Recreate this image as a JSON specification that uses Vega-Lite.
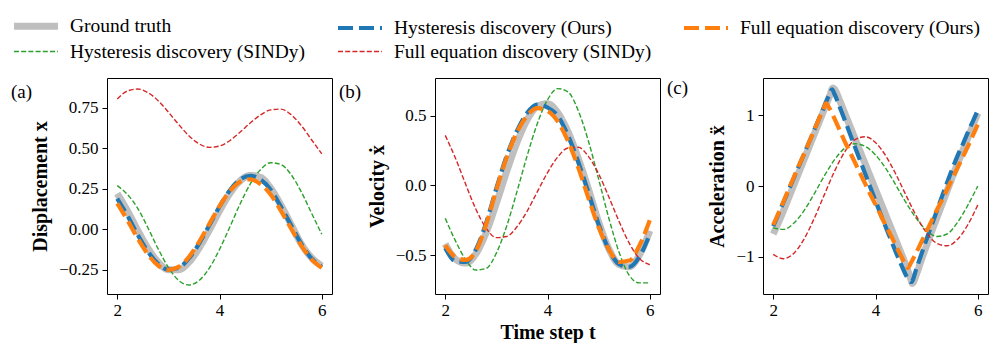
{
  "$schema": "https://vega.github.io/schema/vega-lite/v6.json",
  "background": "white",
  "padding": {"left": 10, "top": 12, "right": 0, "bottom": 0},
  "datasets": {
    "a": [
      {"t": 2.0, "gt": 0.221, "ho": 0.19, "fo": 0.16, "hs": 0.27, "fs": 0.805},
      {"t": 2.2, "gt": 0.114, "ho": 0.084, "fo": 0.056, "hs": 0.215, "fs": 0.854},
      {"t": 2.4, "gt": -0.005, "ho": -0.033, "fo": -0.056, "hs": 0.13, "fs": 0.866},
      {"t": 2.6, "gt": -0.116, "ho": -0.137, "fo": -0.154, "hs": 0.01, "fs": 0.844},
      {"t": 2.8, "gt": -0.202, "ho": -0.213, "fo": -0.223, "hs": -0.12, "fs": 0.794},
      {"t": 3.0, "gt": -0.249, "ho": -0.249, "fo": -0.25, "hs": -0.235, "fs": 0.724},
      {"t": 3.2, "gt": -0.249, "ho": -0.237, "fo": -0.232, "hs": -0.315, "fs": 0.648},
      {"t": 3.4, "gt": -0.203, "ho": -0.18, "fo": -0.171, "hs": -0.343, "fs": 0.578},
      {"t": 3.6, "gt": -0.116, "ho": -0.088, "fo": -0.078, "hs": -0.316, "fs": 0.528},
      {"t": 3.8, "gt": -0.005, "ho": 0.025, "fo": 0.033, "hs": -0.24, "fs": 0.506},
      {"t": 4.0, "gt": 0.114, "ho": 0.141, "fo": 0.143, "hs": -0.124, "fs": 0.514},
      {"t": 4.2, "gt": 0.221, "ho": 0.24, "fo": 0.235, "hs": 0.013, "fs": 0.547},
      {"t": 4.4, "gt": 0.298, "ho": 0.307, "fo": 0.293, "hs": 0.155, "fs": 0.599},
      {"t": 4.6, "gt": 0.333, "ho": 0.33, "fo": 0.309, "hs": 0.279, "fs": 0.656},
      {"t": 4.8, "gt": 0.321, "ho": 0.307, "fo": 0.28, "hs": 0.368, "fs": 0.706},
      {"t": 5.0, "gt": 0.255, "ho": 0.245, "fo": 0.215, "hs": 0.411, "fs": 0.737},
      {"t": 5.2, "gt": 0.15, "ho": 0.14, "fo": 0.115, "hs": 0.4, "fs": 0.742},
      {"t": 5.4, "gt": 0.03, "ho": 0.025, "fo": 0.005, "hs": 0.338, "fs": 0.708},
      {"t": 5.6, "gt": -0.09, "ho": -0.09, "fo": -0.1, "hs": 0.231, "fs": 0.64},
      {"t": 5.8, "gt": -0.175, "ho": -0.18, "fo": -0.185, "hs": 0.1, "fs": 0.553},
      {"t": 6.0, "gt": -0.225, "ho": -0.232, "fo": -0.238, "hs": -0.03, "fs": 0.466}
    ],
    "b": [
      {"t": 2.0, "gt": -0.42, "ho": -0.45, "fo": -0.43, "hs": -0.236, "fs": 0.36},
      {"t": 2.2, "gt": -0.529, "ho": -0.545, "fo": -0.515, "hs": -0.398, "fs": 0.196},
      {"t": 2.4, "gt": -0.558, "ho": -0.55, "fo": -0.535, "hs": -0.534, "fs": 0.008},
      {"t": 2.6, "gt": -0.491, "ho": -0.46, "fo": -0.47, "hs": -0.608, "fs": -0.171},
      {"t": 2.8, "gt": -0.338, "ho": -0.27, "fo": -0.28, "hs": -0.596, "fs": -0.307},
      {"t": 3.0, "gt": -0.128, "ho": -0.02, "fo": -0.03, "hs": -0.486, "fs": -0.375},
      {"t": 3.2, "gt": 0.099, "ho": 0.21, "fo": 0.2, "hs": -0.294, "fs": -0.367},
      {"t": 3.4, "gt": 0.306, "ho": 0.39, "fo": 0.38, "hs": -0.048, "fs": -0.299},
      {"t": 3.6, "gt": 0.47, "ho": 0.52, "fo": 0.5, "hs": 0.211, "fs": -0.186},
      {"t": 3.8, "gt": 0.568, "ho": 0.58, "fo": 0.555, "hs": 0.444, "fs": -0.046},
      {"t": 4.0, "gt": 0.587, "ho": 0.56, "fo": 0.535, "hs": 0.615, "fs": 0.092},
      {"t": 4.2, "gt": 0.523, "ho": 0.5, "fo": 0.46, "hs": 0.696, "fs": 0.204},
      {"t": 4.4, "gt": 0.386, "ho": 0.36, "fo": 0.32, "hs": 0.672, "fs": 0.269},
      {"t": 4.6, "gt": 0.196, "ho": 0.17, "fo": 0.13, "hs": 0.539, "fs": 0.274},
      {"t": 4.8, "gt": -0.025, "ho": -0.05, "fo": -0.09, "hs": 0.319, "fs": 0.209},
      {"t": 5.0, "gt": -0.262, "ho": -0.28, "fo": -0.3, "hs": 0.045, "fs": 0.083},
      {"t": 5.2, "gt": -0.455, "ho": -0.46, "fo": -0.46, "hs": -0.236, "fs": -0.083},
      {"t": 5.4, "gt": -0.568, "ho": -0.565, "fo": -0.55, "hs": -0.48, "fs": -0.259},
      {"t": 5.6, "gt": -0.584, "ho": -0.585, "fo": -0.54, "hs": -0.647, "fs": -0.416},
      {"t": 5.8, "gt": -0.498, "ho": -0.51, "fo": -0.43, "hs": -0.7, "fs": -0.526},
      {"t": 6.0, "gt": -0.326, "ho": -0.35, "fo": -0.25, "hs": -0.7, "fs": -0.57}
    ],
    "c": [
      {"t": 2.0, "gt": -0.68, "ho": -0.57, "fo": -0.55, "hs": -0.593, "fs": -0.969},
      {"t": 2.1, "gt": -0.52, "ho": -0.4, "fo": -0.39},
      {"t": 2.2, "gt": -0.35, "ho": -0.23, "fo": -0.22, "hs": -0.615, "fs": -1.03},
      {"t": 2.3, "gt": -0.17, "ho": -0.06, "fo": -0.05},
      {"t": 2.4, "gt": 0.01, "ho": 0.11, "fo": 0.12, "hs": -0.529, "fs": -0.955},
      {"t": 2.5, "gt": 0.19, "ho": 0.28, "fo": 0.29},
      {"t": 2.6, "gt": 0.37, "ho": 0.45, "fo": 0.45, "hs": -0.352, "fs": -0.755},
      {"t": 2.7, "gt": 0.55, "ho": 0.62, "fo": 0.62},
      {"t": 2.8, "gt": 0.73, "ho": 0.79, "fo": 0.79, "hs": -0.113, "fs": -0.462},
      {"t": 2.9, "gt": 0.91, "ho": 0.96, "fo": 0.96},
      {"t": 3.0, "gt": 1.09, "ho": 1.13, "fo": 1.12, "hs": 0.144, "fs": -0.122},
      {"t": 3.03, "fo": 1.17},
      {"t": 3.1, "gt": 1.27, "ho": 1.3, "fo": 1.1},
      {"t": 3.15, "ho": 1.37},
      {"t": 3.17, "gt": 1.39},
      {"t": 3.2, "gt": 1.37, "ho": 1.3, "fo": 0.95, "hs": 0.373, "fs": 0.211},
      {"t": 3.3, "gt": 1.21, "ho": 1.12, "fo": 0.79},
      {"t": 3.4, "gt": 1.03, "ho": 0.93, "fo": 0.63, "hs": 0.535, "fs": 0.485},
      {"t": 3.5, "gt": 0.85, "ho": 0.74, "fo": 0.48},
      {"t": 3.6, "gt": 0.67, "ho": 0.55, "fo": 0.33, "hs": 0.599, "fs": 0.657},
      {"t": 3.7, "gt": 0.49, "ho": 0.36, "fo": 0.18},
      {"t": 3.8, "gt": 0.31, "ho": 0.17, "fo": 0.03, "hs": 0.56, "fs": 0.698},
      {"t": 3.9, "gt": 0.13, "ho": -0.02, "fo": -0.12},
      {"t": 4.0, "gt": -0.05, "ho": -0.21, "fo": -0.26, "hs": 0.44, "fs": 0.616},
      {"t": 4.1, "gt": -0.23, "ho": -0.4, "fo": -0.41},
      {"t": 4.2, "gt": -0.41, "ho": -0.58, "fo": -0.56, "hs": 0.25, "fs": 0.428},
      {"t": 4.3, "gt": -0.59, "ho": -0.76, "fo": -0.7},
      {"t": 4.4, "gt": -0.77, "ho": -0.94, "fo": -0.85, "hs": 0.01, "fs": 0.164},
      {"t": 4.5, "gt": -0.95, "ho": -1.11, "fo": -0.99},
      {"t": 4.6, "gt": -1.13, "ho": -1.27, "fo": -1.13, "hs": -0.24, "fs": -0.136},
      {"t": 4.63, "fo": -1.16},
      {"t": 4.7, "gt": -1.34, "ho": -1.36, "fo": -1.08},
      {"t": 4.72, "gt": -1.38},
      {"t": 4.8, "gt": -1.25, "ho": -1.17, "fo": -0.94, "hs": -0.46, "fs": -0.427},
      {"t": 4.9, "gt": -1.04, "ho": -0.96, "fo": -0.79},
      {"t": 5.0, "gt": -0.84, "ho": -0.75, "fo": -0.64, "hs": -0.63, "fs": -0.664},
      {"t": 5.1, "gt": -0.64, "ho": -0.55, "fo": -0.49},
      {"t": 5.2, "gt": -0.45, "ho": -0.35, "fo": -0.34, "hs": -0.715, "fs": -0.812},
      {"t": 5.3, "gt": -0.26, "ho": -0.15, "fo": -0.2},
      {"t": 5.4, "gt": -0.07, "ho": 0.05, "fo": -0.05, "hs": -0.68, "fs": -0.847},
      {"t": 5.5, "gt": 0.12, "ho": 0.24, "fo": 0.1},
      {"t": 5.6, "gt": 0.31, "ho": 0.42, "fo": 0.25, "hs": -0.52, "fs": -0.759},
      {"t": 5.7, "gt": 0.49, "ho": 0.58, "fo": 0.4},
      {"t": 5.8, "gt": 0.67, "ho": 0.75, "fo": 0.55, "hs": -0.28, "fs": -0.556},
      {"t": 5.9, "gt": 0.85, "ho": 0.91, "fo": 0.71},
      {"t": 6.0, "gt": 1.03, "ho": 1.07, "fo": 0.87, "hs": 0.0, "fs": -0.27}
    ]
  },
  "hconcat": [
    {
      "data": {"name": "a"},
      "width": 225, "height": 216,
      "title": {"text": "(a)", "dy": 37, "baseline": "middle"},
      "transform": [
        {"fold": ["gt", "ho", "fo", "hs", "fs"], "as": ["series", "v"]},
        {"filter": "isValid(datum.v)"}
      ],
      "encoding": {
        "x": {"field": "t", "type": "quantitative", "scale": {"domain": [1.8, 6.2], "nice": false, "zero": false}, "axis": {"values": [2, 4, 6], "format": "d", "title": null}},
        "y": {"field": "v", "type": "quantitative", "scale": {"domain": [-0.399, 0.934], "nice": false, "zero": false}, "axis": {"values": [-0.25, 0, 0.25, 0.5, 0.75], "format": ".2f", "title": "Displacement x"}},
        "color": {"field": "series", "type": "nominal", "scale": {"domain": ["gt", "hs", "ho", "fs", "fo"], "range": ["#bfbfbf", "#2ca02c", "#1f77b4", "#d62728", "#ff7f0e"]},
          "legend": {"title": null, "orient": "none", "direction": "vertical", "legendX": -84.5, "legendY": -65.5, "columns": 3,
            "labelExpr": "datum.label == 'gt' ? 'Ground truth' : datum.label == 'ho' ? 'Hysteresis discovery (Ours)' : datum.label == 'fo' ? 'Full equation discovery (Ours)' : datum.label == 'hs' ? 'Hysteresis discovery (SINDy)' : 'Full equation discovery (SINDy)'"}},
        "strokeDash": {"field": "series", "type": "nominal", "scale": {"domain": ["gt", "hs", "ho", "fs", "fo"], "range": [[1, 0], [5, 2.2], [15, 6], [5, 2.2], [15, 6]]}},
        "strokeWidth": {"field": "series", "type": "nominal", "scale": {"type": "ordinal", "domain": ["gt", "hs", "ho", "fs", "fo"], "range": [7, 1.4, 4.2, 1.4, 4.2]}}
      },
      "layer": [
        {"transform": [{"filter": "datum.series == 'gt'"}], "mark": {"type": "line", "interpolate": "monotone"}},
        {"transform": [{"filter": "datum.series == 'hs'"}], "mark": {"type": "line", "interpolate": "monotone"}},
        {"transform": [{"filter": "datum.series == 'ho'"}], "mark": {"type": "line", "interpolate": "monotone"}},
        {"transform": [{"filter": "datum.series == 'fs'"}], "mark": {"type": "line", "interpolate": "monotone"}},
        {"transform": [{"filter": "datum.series == 'fo'"}], "mark": {"type": "line", "interpolate": "monotone"}}
      ]
    },
    {
      "data": {"name": "b"},
      "width": 225, "height": 216,
      "title": {"text": "(b)", "dy": 37, "baseline": "middle"},
      "transform": [
        {"fold": ["gt", "ho", "fo", "hs", "fs"], "as": ["series", "v"]},
        {"filter": "isValid(datum.v)"}
      ],
      "encoding": {
        "x": {"field": "t", "type": "quantitative", "scale": {"domain": [1.8, 6.2], "nice": false, "zero": false}, "axis": {"values": [2, 4, 6], "format": "d", "title": "Time step t"}},
        "y": {"field": "v", "type": "quantitative", "scale": {"domain": [-0.78, 0.772], "nice": false, "zero": false}, "axis": {"values": [-0.5, 0, 0.5], "format": ".1f", "title": "Velocity ẋ"}},
        "color": {"field": "series", "type": "nominal", "scale": {"domain": ["gt", "hs", "ho", "fs", "fo"], "range": ["#bfbfbf", "#2ca02c", "#1f77b4", "#d62728", "#ff7f0e"]},
          "legend": {"title": null, "orient": "none", "direction": "vertical", "legendX": -84.5, "legendY": -65.5, "columns": 3,
            "labelExpr": "datum.label == 'gt' ? 'Ground truth' : datum.label == 'ho' ? 'Hysteresis discovery (Ours)' : datum.label == 'fo' ? 'Full equation discovery (Ours)' : datum.label == 'hs' ? 'Hysteresis discovery (SINDy)' : 'Full equation discovery (SINDy)'"}},
        "strokeDash": {"field": "series", "type": "nominal", "scale": {"domain": ["gt", "hs", "ho", "fs", "fo"], "range": [[1, 0], [5, 2.2], [15, 6], [5, 2.2], [15, 6]]}},
        "strokeWidth": {"field": "series", "type": "nominal", "scale": {"type": "ordinal", "domain": ["gt", "hs", "ho", "fs", "fo"], "range": [7, 1.4, 4.2, 1.4, 4.2]}}
      },
      "layer": [
        {"transform": [{"filter": "datum.series == 'gt'"}], "mark": {"type": "line", "interpolate": "monotone"}},
        {"transform": [{"filter": "datum.series == 'hs'"}], "mark": {"type": "line", "interpolate": "monotone"}},
        {"transform": [{"filter": "datum.series == 'ho'"}], "mark": {"type": "line", "interpolate": "monotone"}},
        {"transform": [{"filter": "datum.series == 'fs'"}], "mark": {"type": "line", "interpolate": "monotone"}},
        {"transform": [{"filter": "datum.series == 'fo'"}], "mark": {"type": "line", "interpolate": "monotone"}}
      ]
    },
    {
      "data": {"name": "c"},
      "width": 225, "height": 216,
      "title": {"text": "(c)", "dy": 37, "baseline": "middle"},
      "transform": [
        {"fold": ["gt", "ho", "fo", "hs", "fs"], "as": ["series", "v"]},
        {"filter": "isValid(datum.v)"}
      ],
      "encoding": {
        "x": {"field": "t", "type": "quantitative", "scale": {"domain": [1.8, 6.2], "nice": false, "zero": false}, "axis": {"values": [2, 4, 6], "format": "d", "title": null}},
        "y": {"field": "v", "type": "quantitative", "scale": {"domain": [-1.53, 1.53], "nice": false, "zero": false}, "axis": {"values": [-1, 0, 1], "format": "d", "title": "Acceleration ẍ"}},
        "color": {"field": "series", "type": "nominal", "scale": {"domain": ["gt", "hs", "ho", "fs", "fo"], "range": ["#bfbfbf", "#2ca02c", "#1f77b4", "#d62728", "#ff7f0e"]},
          "legend": {"title": null, "orient": "none", "direction": "vertical", "legendX": -84.5, "legendY": -65.5, "columns": 3,
            "labelExpr": "datum.label == 'gt' ? 'Ground truth' : datum.label == 'ho' ? 'Hysteresis discovery (Ours)' : datum.label == 'fo' ? 'Full equation discovery (Ours)' : datum.label == 'hs' ? 'Hysteresis discovery (SINDy)' : 'Full equation discovery (SINDy)'"}},
        "strokeDash": {"field": "series", "type": "nominal", "scale": {"domain": ["gt", "hs", "ho", "fs", "fo"], "range": [[1, 0], [5, 2.2], [15, 6], [5, 2.2], [15, 6]]}},
        "strokeWidth": {"field": "series", "type": "nominal", "scale": {"type": "ordinal", "domain": ["gt", "hs", "ho", "fs", "fo"], "range": [7, 1.4, 4.2, 1.4, 4.2]}}
      },
      "layer": [
        {"transform": [{"filter": "datum.series == 'gt'"}], "mark": {"type": "line", "interpolate": "monotone"}},
        {"transform": [{"filter": "datum.series == 'hs'"}], "mark": {"type": "line", "interpolate": "monotone"}},
        {"transform": [{"filter": "datum.series == 'ho'"}], "mark": {"type": "line", "interpolate": "monotone"}},
        {"transform": [{"filter": "datum.series == 'fs'"}], "mark": {"type": "line", "interpolate": "monotone"}},
        {"transform": [{"filter": "datum.series == 'fo'"}], "mark": {"type": "line", "interpolate": "monotone"}}
      ]
    }
  ],
  "spacing": 103,
  "bounds": "flush",
  "config": {
    "font": "Liberation Serif",
    "view": {"stroke": "#000", "strokeWidth": 1},
    "axis": {"domain": false, "grid": false, "tickColor": "#000", "tickSize": 5, "tickWidth": 1,
      "labelFont": "Liberation Serif", "labelFontSize": 17, "labelColor": "#000", "labelPadding": 4,
      "titleFont": "Liberation Serif", "titleFontSize": 20, "titleFontWeight": "bold", "titleColor": "#000"},
    "axisY": {"titlePadding": 8},
    "axisX": {"titlePadding": 4, "labelPadding": 3},
    "legend": {"symbolType": "M-2.2,0H2.2", "symbolSize": 400, "columnPadding": 24, "rowPadding": 0,
      "labelFont": "Liberation Serif", "labelFontSize": 19.5, "labelColor": "#000", "labelOffset": 20.5,
      "labelLimit": 400, "padding": 0},
    "title": {"anchor": "start", "frame": "group", "orient": "top", "dx": -96, "offset": 0,
      "font": "Liberation Serif", "fontSize": 19, "fontWeight": "normal", "color": "#000"}
  }
}
